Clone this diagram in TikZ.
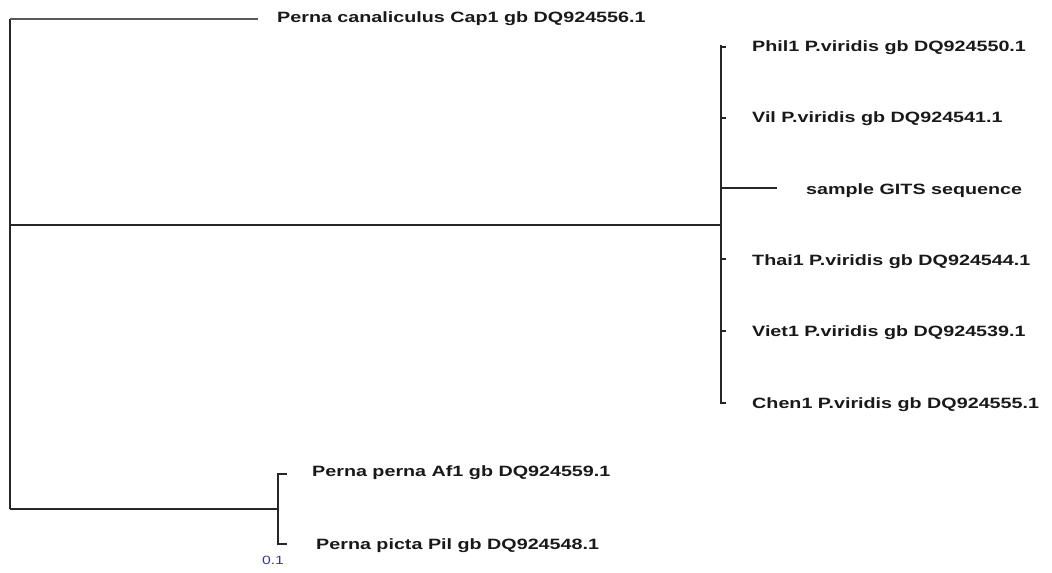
\documentclass[tikz,border=0pt]{standalone}
\usepackage{fontspec}
\setmainfont{Liberation Sans}[FakeStretch=1.32]
\begin{document}
\begin{tikzpicture}[x=1bp,y=-1bp,
  br/.style={draw=black!85,line width=1.6bp},
  lab/.style={anchor=west,inner sep=0pt,font=\fontsize{15}{17}\selectfont\bfseries,text=black!90},
  scl/.style={inner sep=0pt,font=\fontsize{12}{14}\selectfont,text=black!35!blue!55!gray}]
\useasboundingbox (0,0) rectangle (1052,573);
% root
\coordinate (rtop) at (10,19);
\coordinate (rmid) at (10,225);
\coordinate (rbot) at (10,509);
\draw[br] (rtop) -- (rbot);
% top leaf
\coordinate (capE) at (258,19);
\draw[br,draw=black!65] (rtop) -- (capE);
\node[lab] (cap) at (277,18.5) {Perna canaliculus Cap1 gb DQ924556.1};
% middle clade
\coordinate (m) at (721,225);
\coordinate (mt) at (721,45);
\coordinate (mb) at (721,404);
\draw[br] (rmid) -- (m);
\draw[br] (mt) -- (mb);
\foreach \y/\n in {47/a,118/b,259/d,331/e,403/f}{
  \coordinate (s\n) at (721,\y);
  \coordinate (e\n) at (726,\y);
  \draw[br] (s\n) -- (e\n);
}
\coordinate (sc) at (721,188);
\coordinate (ec) at (777,188);
\draw[br] (sc) -- (ec);
\node[lab] (phil) at (752,48) {Phil1 P.viridis gb DQ924550.1};
\node[lab] (vil) at (752,119) {Vil P.viridis gb DQ924541.1};
\node[lab] (gits) at (806,191) {sample GITS sequence};
\node[lab] (thai) at (752,262) {Thai1 P.viridis gb DQ924544.1};
\node[lab] (viet) at (752,333) {Viet1 P.viridis gb DQ924539.1};
\node[lab] (chen) at (752,405) {Chen1 P.viridis gb DQ924555.1};
% bottom clade
\coordinate (b) at (278,509);
\coordinate (bt) at (278,474);
\coordinate (bb) at (278,544);
\coordinate (bte) at (287,474);
\coordinate (bbe) at (287,544);
\draw[br] (rbot) -- (b);
\draw[br] (bte) -- (bt) -- (bb) -- (bbe);
\node[lab] (af) at (312,473) {Perna perna Af1 gb DQ924559.1};
\node[lab] (pil) at (316,546) {Perna picta Pil gb DQ924548.1};
\node[scl] (s01) at (273,560) {0.1};
\end{tikzpicture}
\end{document}
